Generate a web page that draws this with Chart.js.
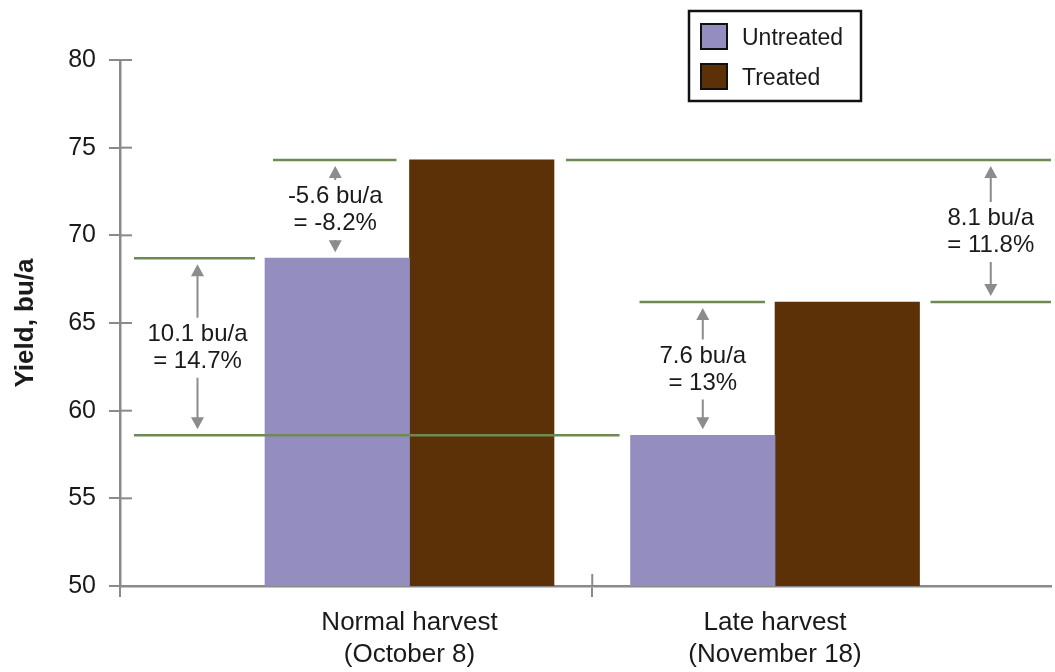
<!DOCTYPE html>
<html>
<head>
<meta charset="utf-8">
<title>Yield by harvest date</title>
<style>
  html, body { margin: 0; padding: 0; background: #fff; }
  #wrap { width: 1055px; height: 672px; }
</style>
</head>
<body>
<div id="wrap"><canvas id="yieldChart" width="1055" height="672"></canvas></div>
<script src="https://cdn.jsdelivr.net/npm/chart.js@4.4.1/dist/chart.umd.min.js"></script>
<script>
// ── Data ────────────────────────────────────────────────
const harvests   = [['Normal harvest', '(October 8)'], ['Late harvest', '(November 18)']];
const seriesNames = ['Untreated', 'Treated'];
const untreated  = [68.7, 58.6];
const treated    = [74.3, 66.2];
const yTicks     = [50, 55, 60, 65, 70, 75, 80];

// difference callouts: normal vs late (untreated), treated vs untreated (normal),
// treated vs untreated (late), normal vs late (treated)
const diffLabels = [
    ['10.1 bu/a', '= 14.7%'],
    ['-5.6 bu/a', '= -8.2%'],
    ['7.6 bu/a',  '= 13%'],
    ['8.1 bu/a',  '= 11.8%']
];

// ── Style ───────────────────────────────────────────────
const FONT     = "'Liberation Sans', Arial, Helvetica, sans-serif";
const INK      = '#1a1a1a';
const AXIS     = '#8a8a8a';
const GUIDE    = '#6d8a52';
const ARROW    = '#8c8c8c';
const COLORS   = ['#938ebf', '#5c3107'];

// category positions on the linear x scale are 1..n, borders between them at halves
const catPos   = harvests.map((_, i) => i + 1);
const dividers = catPos.slice(1).map(p => p - 0.5);

// ── Helpers ─────────────────────────────────────────────
function hLine(ctx, x1, x2, y) {
    ctx.beginPath();
    ctx.moveTo(x1, y);
    ctx.lineTo(x2, y);
    ctx.stroke();
}

function arrowHead(ctx, x, tipY, dir) {
    // dir = -1 points up, +1 points down
    ctx.beginPath();
    ctx.moveTo(x, tipY);
    ctx.lineTo(x - 6.5, tipY - dir * 12);
    ctx.lineTo(x + 6.5, tipY - dir * 12);
    ctx.closePath();
    ctx.fill();
}

function callout(ctx, x, yTop, yBot, lines) {
    const mid    = (yTop + yBot) / 2 + 1;
    const lh     = 27;
    const tipTop = yTop + 6;
    const tipBot = yBot - 6;
    const gapTop = mid - 30;
    const gapBot = mid + 30;

    ctx.strokeStyle = ARROW;
    ctx.fillStyle   = ARROW;
    ctx.lineWidth   = 2;
    ctx.beginPath();
    ctx.moveTo(x, tipTop + 8);
    ctx.lineTo(x, gapTop);
    ctx.moveTo(x, gapBot);
    ctx.lineTo(x, tipBot - 8);
    ctx.stroke();
    arrowHead(ctx, x, tipTop, -1);
    arrowHead(ctx, x, tipBot, 1);

    ctx.fillStyle    = INK;
    ctx.font         = '24px ' + FONT;
    ctx.textAlign    = 'center';
    ctx.textBaseline = 'middle';
    ctx.fillText(lines[0], x, mid - lh / 2);
    ctx.fillText(lines[1], x, mid + lh / 2);
}

// ── Overlay plugin: axis details, guide lines, callouts, legend ──
const overlay = {
    id: 'overlay',
    afterDraw(chart) {
        const ctx  = chart.ctx;
        const area = chart.chartArea;
        const xs   = chart.scales.x;
        const ys   = chart.scales.y;
        const u    = chart.getDatasetMeta(0).data;
        const t    = chart.getDatasetMeta(1).data;
        const L    = b => b.x - b.width / 2;
        const R    = b => b.x + b.width / 2;

        ctx.save();

        // tick marks crossing into the plot, axis overhang
        ctx.strokeStyle = AXIS;
        ctx.lineWidth   = 2;
        yTicks.forEach(v => hLine(ctx, area.left, area.left + 12, ys.getPixelForValue(v)));
        ctx.beginPath();
        ctx.moveTo(area.left, area.bottom);
        ctx.lineTo(area.left, area.bottom + 11);
        dividers.forEach(d => {
            const px = xs.getPixelForValue(d);
            ctx.moveTo(px, area.bottom - 12);
            ctx.lineTo(px, area.bottom);
        });
        ctx.stroke();

        // green reference lines at bar tops
        ctx.strokeStyle = GUIDE;
        ctx.lineWidth   = 2.5;
        const l1 = [area.left + 14, L(u[0]) - 10];
        const l6 = [R(t[1]) + 11, area.right];
        hLine(ctx, l1[0], l1[1], u[0].y);
        hLine(ctx, area.left + 14, L(u[1]) - 11, u[1].y);
        hLine(ctx, L(u[0]) + 8, R(u[0]) - 13, t[0].y);
        hLine(ctx, R(t[0]) + 12, area.right, t[0].y);
        hLine(ctx, L(u[1]) + 9, R(u[1]) - 10, t[1].y);
        hLine(ctx, l6[0], l6[1], t[1].y);

        // callouts
        callout(ctx, (l1[0] + l1[1]) / 2 + 3, u[0].y, u[1].y, diffLabels[0]);
        callout(ctx, u[0].x - 2, t[0].y, u[0].y, diffLabels[1]);
        callout(ctx, u[1].x, t[1].y, u[1].y, diffLabels[2]);
        callout(ctx, (l6[0] + l6[1]) / 2, t[0].y, t[1].y, diffLabels[3]);

        // boxed legend
        const bx = area.right - 362, by = 11, bw = 172, bh = 90;
        ctx.fillStyle   = '#fff';
        ctx.fillRect(bx, by, bw, bh);
        ctx.strokeStyle = '#111';
        ctx.lineWidth   = 2.5;
        ctx.strokeRect(bx, by, bw, bh);
        chart.data.datasets.forEach((ds, i) => {
            const sy = by + 13 + i * 40;
            ctx.fillStyle = ds.backgroundColor;
            ctx.fillRect(bx + 12, sy, 26, 25);
            ctx.strokeStyle = '#111';
            ctx.lineWidth   = 2;
            ctx.strokeRect(bx + 12, sy, 26, 25);
            ctx.fillStyle    = INK;
            ctx.font         = '23px ' + FONT;
            ctx.textAlign    = 'left';
            ctx.textBaseline = 'middle';
            ctx.fillText(ds.label, bx + 53, sy + 15);
        });

        ctx.restore();
    }
};

// ── Chart ───────────────────────────────────────────────
const toPoints = vals => vals.map((v, i) => ({ x: catPos[i], y: v }));

new Chart(document.getElementById('yieldChart'), {
    type: 'bar',
    data: {
        datasets: [
            { label: seriesNames[0], data: toPoints(untreated), backgroundColor: COLORS[0], borderWidth: 0 },
            { label: seriesNames[1], data: toPoints(treated),   backgroundColor: COLORS[1], borderWidth: 0 }
        ]
    },
    options: {
        responsive: false,
        animation:  false,
        barThickness: 144.5,
        layout: { padding: { left: 0, top: 60, right: 4, bottom: 0 } },
        plugins: {
            legend:  { display: false },
            tooltip: { enabled: false }
        },
        scales: {
            x: {
                type: 'linear',
                offset: false,
                min: 0.208,
                max: 2.755,
                z: 1,
                afterBuildTicks: s => {
                    s.ticks = catPos.concat(dividers).sort((a, b) => a - b).map(v => ({ value: v }));
                },
                afterFit: s => { s.height = 86; },
                border: { display: true, color: AXIS, width: 2.5 },
                grid: {
                    offset: false,
                    drawOnChartArea: false,
                    drawTicks: true,
                    tickLength: 11,
                    lineWidth: 2,
                    color: c => (c.tick && dividers.includes(c.tick.value)) ? AXIS : 'rgba(0,0,0,0)'
                },
                ticks: {
                    autoSkip: false,
                    maxRotation: 0,
                    padding: 9.5,
                    color: INK,
                    font: { family: FONT, size: 26, lineHeight: 1.23 },
                    callback: v => Number.isInteger(v) ? harvests[v - 1] : ''
                }
            },
            y: {
                min: 50,
                max: 80,
                afterBuildTicks: s => { s.ticks = yTicks.map(v => ({ value: v })); },
                afterFit: s => { s.width = 120; },
                border: { display: true, color: AXIS, width: 2.5 },
                grid: {
                    drawOnChartArea: false,
                    drawTicks: true,
                    tickLength: 11,
                    lineWidth: 2,
                    color: AXIS
                },
                ticks: {
                    padding: 13,
                    color: INK,
                    font: { family: FONT, size: 25 }
                },
                title: {
                    display: true,
                    text: 'Yield, bu/a',
                    color: INK,
                    padding: { top: 10, bottom: 0 },
                    font: { family: FONT, size: 26, weight: 'bold' }
                }
            }
        }
    },
    plugins: [overlay]
});
</script>
</body>
</html>
